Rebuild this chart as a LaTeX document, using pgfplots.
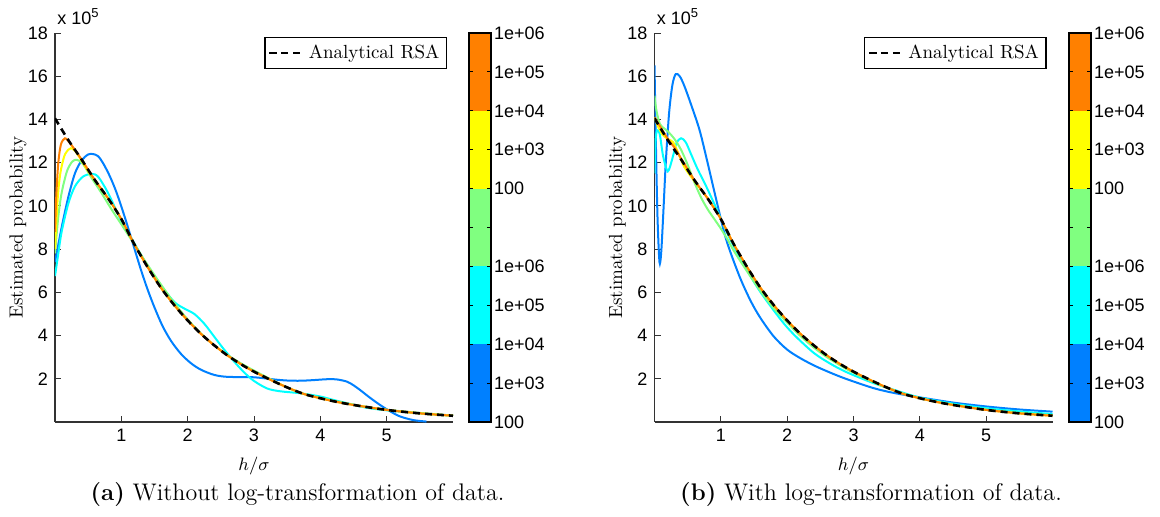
\documentclass[border=0pt]{standalone}
\usepackage{fontspec}
\usepackage{pgfplots}
\pgfplotsset{compat=1.18}
\newfontfamily\sansf{Liberation Sans}
\definecolor{cblue}{RGB}{0,128,255}
\definecolor{ccyan}{RGB}{0,255,255}
\definecolor{cgreen}{RGB}{128,255,128}
\definecolor{cyellow}{RGB}{255,255,0}
\definecolor{corange}{RGB}{255,128,0}
\pgfplotsset{
  mainax/.style={
    scale only axis, width=199pt, height=194.5pt,
    xmin=0, xmax=6, ymin=0, ymax=18,
    xtick={1,2,3,4,5}, ytick={2,4,...,18},
    axis x line*=bottom, axis y line*=left,
    axis line style={black!80, line width=0.6pt, -},
    tick align=inside, tick style={black!80, line width=0.5pt}, major tick length=3pt,
    ticklabel style={font=\sansf\fontsize{9}{10}\selectfont},
    /pgf/number format/assume math mode=true,
    xlabel={$h/\sigma$}, ylabel={Estimated probability},
    label style={font=\fontsize{9.5}{11}\selectfont},
    xlabel style={at={(axis description cs:0.5,0)}, anchor=north, yshift=-14pt},
    ylabel style={at={(axis description cs:-0.093,0.5)}, anchor=center},
    legend style={at={(rel axis cs:1,1)}, anchor=north east, xshift=-3pt, yshift=-2pt,
      draw=black, line width=0.6pt, font=\fontsize{9.5}{11}\selectfont, inner sep=1.5pt},
    legend cell align=left,
    every axis plot/.append style={line width=1pt, smooth},
  },
  cbax/.style={
    scale only axis, width=11pt, height=194.5pt,
    xmin=0, xmax=1, ymin=0, ymax=10,
    xtick=\empty, ytick={0,1,...,10},
    yticklabels={100,1e+03,1e+04,1e+05,1e+06,{},100,1e+03,1e+04,1e+05,1e+06},
    ytick pos=both, yticklabel pos=right,
    tick align=inside, major tick length=2pt, tick style={black, line width=0.5pt},
    axis on top, axis line style={black, line width=0.7pt},
    ticklabel style={font=\sansf\fontsize{9}{10}\selectfont},
    yticklabel style={anchor=west, xshift=-2pt},
    /pgf/number format/assume math mode=true,
  },
  anal/.style={black, dash pattern=on 3.5pt off 2.5pt, line width=1.3pt},
}
\newcommand{\colorbar}{%
  \addplot[draw=none, fill=corange] coordinates {(0,10) (1,10)} \closedcycle;
  \addplot[draw=none, fill=cyellow] coordinates {(0,8) (1,8)} \closedcycle;
  \addplot[draw=none, fill=cgreen] coordinates {(0,6) (1,6)} \closedcycle;
  \addplot[draw=none, fill=ccyan] coordinates {(0,4) (1,4)} \closedcycle;
  \addplot[draw=none, fill=cblue] coordinates {(0,2) (1,2)} \closedcycle;
}
\begin{document}
\begin{tikzpicture}
\path[use as bounding box] (0,0) rectangle (580pt,-258pt);
% ---------------- Panel (a) ----------------
\begin{axis}[mainax, name=A, at={(27.5pt,-211pt)}, anchor=south west]
\addplot[cblue, forget plot] coordinates {
(0,7.4)(0.1,9.0)(0.2,10.4)(0.3,11.5)(0.4,12.1)(0.5,12.38)(0.57,12.4)(0.65,12.3)(0.73,11.95)(0.83,11.35)(0.93,10.6)(1.05,9.5)(1.18,8.2)(1.3,7.0)(1.4,6.1)(1.5,5.3)(1.62,4.45)(1.75,3.75)(1.9,3.15)(2.05,2.72)(2.2,2.42)(2.4,2.18)(2.6,2.09)(3.0,2.07)(3.3,1.97)(3.5,1.92)(3.7,1.91)(3.9,1.94)(4.1,1.98)(4.25,1.97)(4.4,1.87)(4.5,1.7)(4.6,1.48)(4.75,1.12)(4.9,0.79)(5.05,0.5)(5.2,0.26)(5.4,0.09)(5.6,0.02)};
\addplot[ccyan, forget plot] coordinates {
(0,6.75)(0.05,7.8)(0.1,8.8)(0.2,10.1)(0.3,10.9)(0.42,11.35)(0.55,11.48)(0.65,11.35)(0.8,10.6)(1.0,9.3)(1.2,8.25)(1.4,7.2)(1.6,6.3)(1.8,5.55)(1.95,5.25)(2.1,5.0)(2.25,4.55)(2.4,3.95)(2.55,3.35)(2.7,2.8)(2.85,2.3)(3.0,1.9)(3.2,1.55)(3.4,1.42)(3.7,1.33)(4.0,1.18)(4.2,1.02)(4.5,0.8)(4.7,0.66)(5.0,0.54)(5.5,0.4)(6.0,0.29)};
\addplot[cgreen, forget plot] coordinates {
(0,7.8)(0.05,9.5)(0.1,10.6)(0.18,11.6)(0.26,12.05)(0.33,12.13)(0.42,11.95)(0.55,11.3)(0.7,10.6)(0.85,9.85)(1.0,9.15)(1.2,8.2)(1.4,7.25)(1.6,6.35)(1.8,5.5)(2.0,4.75)(2.2,4.1)(2.4,3.55)(2.6,3.1)(2.8,2.72)(3.0,2.38)(3.25,1.98)(3.5,1.6)(3.75,1.3)(4.0,1.11)(4.5,0.8)(5.0,0.57)(5.5,0.42)(6.0,0.3)};
\addplot[cyellow, forget plot] coordinates {
(0,8.0)(0.04,10.3)(0.08,11.5)(0.14,12.3)(0.2,12.6)(0.24,12.67)(0.3,12.55)(0.4,12.1)(0.5,11.6)(0.6,11.2)(0.8,10.35)(0.98,9.5)(1.1,8.8)(1.2,8.2)(1.4,7.15)(1.6,6.2)(1.8,5.4)(2.0,4.7)(2.2,4.08)(2.4,3.55)(2.6,3.08)(2.8,2.68)(3.0,2.33)(3.25,1.95)(3.5,1.6)(3.75,1.3)(4.0,1.1)(4.25,0.93)(4.5,0.79)(5.0,0.56)(5.5,0.4)(6.0,0.29)};
\addplot[corange, forget plot] coordinates {
(0,8.8)(0.02,10.5)(0.05,12.0)(0.09,12.85)(0.15,13.13)(0.2,13.0)(0.3,12.6)(0.4,12.15)(0.6,11.2)(0.8,10.35)(0.98,9.5)(1.1,8.8)(1.2,8.2)(1.4,7.15)(1.6,6.2)(1.8,5.4)(2.0,4.7)(2.2,4.08)(2.4,3.55)(2.6,3.08)(2.8,2.68)(3.0,2.33)(3.25,1.95)(3.5,1.6)(3.75,1.3)(4.0,1.1)(4.25,0.93)(4.5,0.79)(5.0,0.56)(5.5,0.4)(6.0,0.29)};
\addplot[anal] coordinates {
(0,14.05)(0.2,13.05)(0.4,12.15)(0.6,11.2)(0.8,10.35)(0.98,9.5)(1.05,9.1)(1.1,8.8)(1.2,8.2)(1.4,7.15)(1.6,6.2)(1.8,5.4)(2.0,4.7)(2.2,4.08)(2.4,3.55)(2.6,3.08)(2.8,2.68)(3.0,2.33)(3.25,1.95)(3.5,1.6)(3.75,1.3)(4.0,1.1)(4.25,0.93)(4.5,0.79)(5.0,0.56)(5.5,0.4)(6.0,0.29)};
\addlegendentry{Analytical RSA}
\end{axis}
\begin{axis}[cbax, at={(234.5pt,-211pt)}, anchor=south west]
\colorbar
\end{axis}
\node[anchor=south west, inner sep=0pt, font=\sansf\fontsize{9}{10}\selectfont] at ([xshift=1pt,yshift=4pt]A.north west) {x 10\raisebox{0.75ex}{\fontsize{6.5}{7}\selectfont 5}};
\node[font=\fontsize{12}{14}\selectfont] at ([xshift=121.25pt,yshift=-36pt]A.south west) {\textbf{(a)} Without log-transformation of data.};
% ---------------- Panel (b) ----------------
\begin{axis}[mainax, name=B, at={(327.25pt,-211pt)}, anchor=south west]
\addplot[cblue, forget plot] coordinates {
(0,16.5)(0.02,13)(0.045,9.5)(0.075,7.4)(0.1,7.8)(0.13,9.5)(0.17,12)(0.22,14.3)(0.27,15.6)(0.32,16.1)(0.38,16.0)(0.45,15.55)(0.55,14.7)(0.68,13.5)(0.8,12.0)(0.93,10.3)(1.08,8.45)(1.28,6.75)(1.45,5.6)(1.6,4.8)(1.8,3.95)(2.0,3.35)(2.2,2.95)(2.43,2.58)(2.7,2.22)(2.93,1.95)(3.3,1.57)(3.6,1.35)(4.0,1.14)(4.5,0.9)(5.0,0.72)(5.5,0.58)(6.0,0.48)};
\addplot[ccyan, forget plot] coordinates {
(0,11.5)(0.015,13.0)(0.04,13.5)(0.08,13.3)(0.13,12.3)(0.2,11.6)(0.27,12.2)(0.33,12.9)(0.4,13.13)(0.47,12.95)(0.55,12.4)(0.65,11.7)(0.78,10.9)(0.9,10.1)(1.0,9.4)(1.15,8.4)(1.4,7.0)(1.6,6.0)(1.9,4.75)(2.1,4.05)(2.4,3.2)(2.65,2.7)(2.9,2.3)(3.3,1.8)(3.6,1.5)(4.0,1.13)(4.5,0.85)(5.0,0.64)(5.5,0.49)(6.0,0.37)};
\addplot[cgreen, forget plot] coordinates {
(0,15.1)(0.03,14.4)(0.08,13.8)(0.14,13.6)(0.2,13.45)(0.3,13.1)(0.4,12.6)(0.5,11.9)(0.6,11.1)(0.7,10.4)(0.8,9.85)(0.9,9.4)(1.0,8.95)(1.1,8.45)(1.2,7.9)(1.4,6.95)(1.6,6.05)(1.8,5.25)(2.0,4.6)(2.2,3.98)(2.4,3.45)(2.6,3.0)(2.8,2.62)(3.0,2.28)(3.5,1.58)(4.0,1.1)(4.5,0.8)(5.0,0.57)(5.5,0.42)(6.0,0.31)};
\addplot[cyellow, forget plot] coordinates {
(0,14.1)(0.05,13.7)(0.12,13.3)(0.2,13.1)(0.28,12.95)(0.35,12.5)(0.45,11.8)(0.6,11.15)(0.8,10.35)(0.98,9.5)(1.1,8.8)(1.2,8.2)(1.4,7.15)(1.6,6.2)(1.8,5.4)(2.0,4.7)(2.2,4.08)(2.4,3.55)(2.6,3.08)(2.8,2.68)(3.0,2.33)(3.25,1.95)(3.5,1.6)(3.75,1.3)(4.0,1.1)(4.25,0.93)(4.5,0.79)(5.0,0.56)(5.5,0.4)(6.0,0.29)};
\addplot[corange, forget plot] coordinates {
(0,14.1)(0.1,13.6)(0.2,13.1)(0.3,12.7)(0.4,12.2)(0.6,11.2)(0.8,10.35)(0.98,9.5)(1.05,9.1)(1.1,8.8)(1.2,8.2)(1.4,7.15)(1.6,6.2)(1.8,5.4)(2.0,4.7)(2.2,4.08)(2.4,3.55)(2.6,3.08)(2.8,2.68)(3.0,2.33)(3.25,1.95)(3.5,1.6)(3.75,1.3)(4.0,1.1)(4.25,0.93)(4.5,0.79)(5.0,0.56)(5.5,0.4)(6.0,0.29)};
\addplot[anal] coordinates {
(0,14.05)(0.2,13.05)(0.4,12.15)(0.6,11.2)(0.8,10.35)(0.98,9.5)(1.05,9.1)(1.1,8.8)(1.2,8.2)(1.4,7.15)(1.6,6.2)(1.8,5.4)(2.0,4.7)(2.2,4.08)(2.4,3.55)(2.6,3.08)(2.8,2.68)(3.0,2.33)(3.25,1.95)(3.5,1.6)(3.75,1.3)(4.0,1.1)(4.25,0.93)(4.5,0.79)(5.0,0.56)(5.5,0.4)(6.0,0.29)};
\addlegendentry{Analytical RSA}
\end{axis}
\begin{axis}[cbax, at={(534.5pt,-211pt)}, anchor=south west]
\colorbar
\end{axis}
\node[anchor=south west, inner sep=0pt, font=\sansf\fontsize{9}{10}\selectfont] at ([xshift=1pt,yshift=4pt]B.north west) {x 10\raisebox{0.75ex}{\fontsize{6.5}{7}\selectfont 5}};
\node[font=\fontsize{12}{14}\selectfont] at ([xshift=108.25pt,yshift=-36pt]B.south west) {\textbf{(b)} With log-transformation of data.};
\end{tikzpicture}
\end{document}
